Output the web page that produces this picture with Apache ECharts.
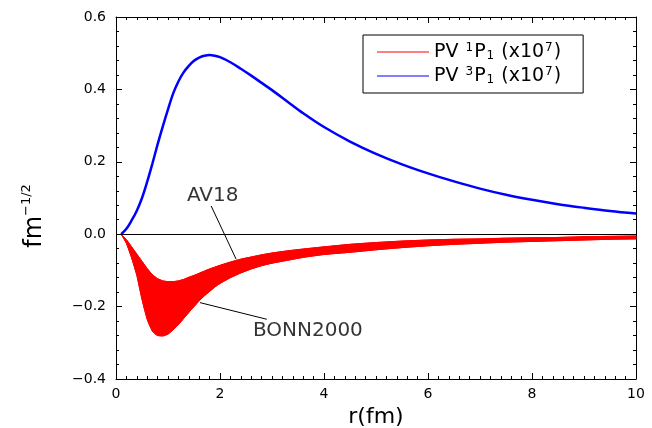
<!DOCTYPE html>
<html>
<head>
<meta charset="utf-8">
<script src="https://cdn.jsdelivr.net/npm/echarts@6/dist/echarts.min.js"></script>
<style>
html,body{margin:0;padding:0;background:#fff;}
#chart{width:652px;height:428px;}
</style>
</head>
<body>
<div id="chart"></div>
<script>
// ---- data ----
var rValues = [0.1,0.2,0.3,0.4,0.5,0.6,0.7,0.8,0.9,1.0,1.1,1.2,1.3,1.4,1.5,1.6,1.7,1.8,1.9,2.0,2.2,2.4,2.6,2.8,3.0,3.3,3.6,4.0,4.5,5.0,5.5,6.0,6.5,7.0,7.5,8.0,8.5,9.0,9.5,10.0];
var pv3P1 = [0.0,0.015,0.038,0.065,0.100,0.145,0.195,0.248,0.298,0.345,0.389,0.422,0.447,0.465,0.479,0.488,0.493,0.495,0.493,0.489,0.475,0.457,0.438,0.418,0.398,0.366,0.334,0.296,0.256,0.222,0.193,0.168,0.146,0.126,0.109,0.095,0.083,0.073,0.064,0.057];
var pv1P1_AV18 = [0.0,-0.015,-0.035,-0.055,-0.075,-0.095,-0.112,-0.123,-0.129,-0.131,-0.131,-0.129,-0.125,-0.119,-0.114,-0.108,-0.102,-0.096,-0.091,-0.086,-0.077,-0.069,-0.063,-0.057,-0.052,-0.046,-0.041,-0.035,-0.028,-0.023,-0.019,-0.016,-0.014,-0.013,-0.011,-0.010,-0.009,-0.007,-0.006,-0.005];
var pv1P1_BONN = [0.0,-0.025,-0.065,-0.113,-0.180,-0.235,-0.268,-0.280,-0.281,-0.276,-0.264,-0.250,-0.233,-0.216,-0.200,-0.184,-0.170,-0.158,-0.146,-0.136,-0.120,-0.107,-0.096,-0.087,-0.080,-0.072,-0.064,-0.056,-0.050,-0.043,-0.037,-0.032,-0.028,-0.025,-0.022,-0.020,-0.018,-0.016,-0.014,-0.013];
var xTicks = [0,2,4,6,8,10];
var yTicks = [-0.4,-0.2,0.0,0.2,0.4,0.6];
var legendNames = ['P1','P3'];
var annotText = ['AV18','BONN2000'];
var annotPos = [[1.86,0.107],[3.69,-0.267]];
var leaderLines = [[[1.83,0.078],[2.31,-0.069]],[[1.615,-0.189],[2.90,-0.235]]];

// ---- build series data ----
var blueData = rValues.map(function(r,i){return [r,pv3P1[i]];});
var upperData = rValues.map(function(r,i){return [r,pv1P1_AV18[i]];});
var lowerData = rValues.map(function(r,i){return [r,pv1P1_BONN[i]];});
var bandData = rValues.map(function(r,i){return [r,pv1P1_AV18[i],pv1P1_BONN[i]];});
var annotData = annotPos.map(function(p,i){return [p[0],p[1],annotText[i]];});

var FONT = 'DejaVu Sans';
function fmtY(v){ return v.toFixed(1).replace('-','\u2212'); }

var chart = echarts.init(document.getElementById('chart'), null, {renderer:'canvas'});
function axisCommon(split){
  return {
    axisLine:{show:true,onZero:false,lineStyle:{color:'#000',width:1}},
    axisTick:{show:true,inside:true,length:6,lineStyle:{color:'#000',width:1}},
    minorTick:{show:true,splitNumber:split,length:3,lineStyle:{color:'#000',width:1}},
    splitLine:{show:false}
  };
}
var option = {
  animation:false,
  backgroundColor:'#fff',
  grid:{left:116,right:16,top:17,bottom:49,containLabel:false,outerBoundsMode:'none'},
  legend:{
    data:[{name:'P1',icon:'rect'},{name:'P3',icon:'rect'}],
    orient:'vertical',
    left:363, top:35,
    borderColor:'#000', borderWidth:1,
    backgroundColor:'#fff',
    padding:[7,22,7,14],
    itemGap:4,
    itemWidth:52, itemHeight:1.2,
    itemTextGap:13,
    selectedMode:false,
    formatter:function(name){
      var s = name==='P1' ? '1' : '3';
      return '{n|PV }{sup|'+s+'}{n|P}{sub|1}{n| (x10}{sup|7}{n|)}';
    },
    textStyle:{
      fontFamily:FONT, fontSize:19, color:'#000',
      rich:{
        n:{fontFamily:FONT,fontSize:19,color:'#000',lineHeight:20},
        sup:{fontFamily:FONT,fontSize:12,color:'#000',verticalAlign:'top',lineHeight:20,padding:[0,1,0,1]},
        sub:{fontFamily:FONT,fontSize:12,color:'#000',verticalAlign:'bottom',lineHeight:20,padding:[0,1,0,1]}
      }
    }
  },
  xAxis:[
    Object.assign({type:'value',min:0,max:10,interval:2,position:'bottom',
      name:'r(fm)',nameLocation:'middle',nameGap:22,
      nameTextStyle:{fontFamily:FONT,fontSize:22,color:'#000'},
      axisLabel:{show:true,fontFamily:FONT,fontSize:14,color:'#000',margin:8,
        formatter:function(v){return xTicks.indexOf(v)>=0?String(v):'';}}}, axisCommon(10)),
    Object.assign({type:'value',min:0,max:10,interval:2,position:'top',axisLabel:{show:false}}, axisCommon(10))
  ],
  yAxis:[
    Object.assign({type:'value',min:-0.4,max:0.6,interval:0.2,position:'left',
      name:'{a|fm}{b|\u22121/2}',nameLocation:'middle',nameGap:66,nameRotate:90,
      nameTextStyle:{fontFamily:FONT,fontSize:22,color:'#000',padding:[0,36,0,0],
        rich:{a:{fontFamily:FONT,fontSize:24,color:'#000',lineHeight:30},
              b:{fontFamily:FONT,fontSize:13,color:'#000',verticalAlign:'top',lineHeight:30}}},
      axisLabel:{show:true,fontFamily:FONT,fontSize:14,color:'#000',margin:10,formatter:fmtY}}, axisCommon(5)),
    Object.assign({type:'value',min:-0.4,max:0.6,interval:0.2,position:'right',axisLabel:{show:false}}, axisCommon(5))
  ],
  series:[
    {name:'band',type:'custom',data:bandData,z:2,silent:true,
     encode:{x:0,y:[1,2]},
     renderItem:function(params,api){
       if(params.dataIndex!==0) return;
       var pts=[],i;
       for(i=0;i<bandData.length;i++) pts.push(api.coord([bandData[i][0],bandData[i][1]]));
       for(i=bandData.length-1;i>=0;i--) pts.push(api.coord([bandData[i][0],bandData[i][2]]));
       return {type:'polygon',shape:{points:pts,smooth:0},style:{fill:'#ff0000',stroke:'#ff0000',lineWidth:1}};
     }},
    {name:'P1',type:'line',data:upperData,symbol:'none',smooth:0.3,
     lineStyle:{color:'#ff0000',width:1},itemStyle:{color:'#ff0000'},z:3},
    {name:'P1',type:'line',data:lowerData,symbol:'none',smooth:0.3,
     lineStyle:{color:'#ff0000',width:1},itemStyle:{color:'#ff0000'},z:3},
    {name:'P3',type:'line',data:blueData,symbol:'none',smooth:0.35,
     lineStyle:{color:'#0000ff',width:2.5},itemStyle:{color:'#0000ff'},z:4},
    {name:'annot',type:'scatter',data:annotData,symbolSize:0,z:5,silent:true,
     label:{show:true,position:'inside',fontFamily:FONT,fontSize:20,color:'#000',
       formatter:function(p){return p.value[2];}},
     markLine:{silent:true,symbol:['none','none'],label:{show:false},
       lineStyle:{color:'#000',width:1,type:'solid'},
       data:[{yAxis:0,lineStyle:{color:'#000',width:1.2,type:'solid'}}].concat(
         leaderLines.map(function(l){return [{coord:l[0]},{coord:l[1]}];}))}
    }
  ]
};
chart.setOption(option);
</script>
</body>
</html>
